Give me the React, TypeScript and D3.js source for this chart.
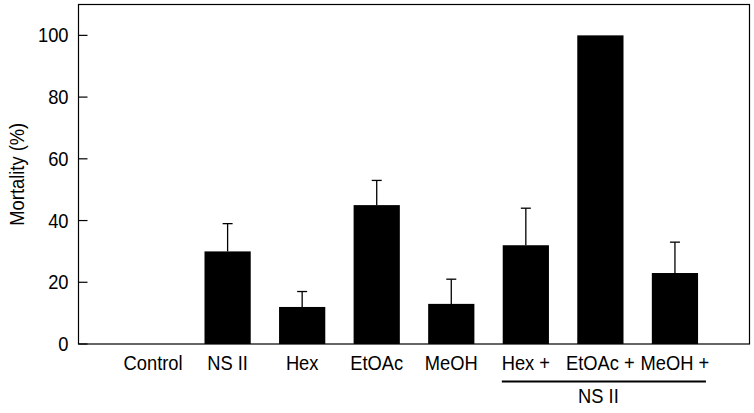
import React from "react";
import * as d3 from "d3";

const categories = ["Control", "NS II", "Hex", "EtOAc", "MeOH", "Hex +", "EtOAc +", "MeOH +"];
const mortality = [0, 30, 12, 45, 13, 32, 100, 23];
const errorTop = [0, 39, 17, 53, 21, 44, 100, 33];
const yTicks = [0, 20, 40, 60, 80, 100];
const groupLabel = "NS II";
const yTitle = "Mortality (%)";

const W = 754;
const H = 413;
const left = 78.5;
const right = 749.5;
const top = 4.5;
const bottom = 344;

const font = "'Liberation Sans', Arial, sans-serif";
const FS = 19.5;
const SX = 0.94;

function Label({ x, y, anchor, children, rotate = 0 }: any) {
  return (
    <text
      transform={`translate(${x},${y}) rotate(${rotate}) scale(${SX},1)`}
      textAnchor={anchor}
      fontFamily={font}
      fontSize={FS}
      fill="#000"
    >
      {children}
    </text>
  );
}

export default function App() {
  const x = d3.scaleLinear().domain([0, 9]).range([left, right]);
  const y = d3.scaleLinear().domain([0, 110]).range([bottom, top]);
  const halfW = 0.31;

  return (
    <div style={{ position: "absolute", left: 0, top: 0 }}>
      <svg width={W} height={H} style={{ display: "block", background: "#fff" }}>
        {categories.map((c, i) => {
          const v = mortality[i];
          const cx = x(i + 1);
          if (v <= 0) return null;
          return (
            <g key={c}>
              <rect
                x={x(i + 1 - halfW)}
                width={x(i + 1 + halfW) - x(i + 1 - halfW)}
                y={y(v)}
                height={y(0) - y(v)}
                fill="#000"
              />
              {errorTop[i] > v && (
                <g stroke="#000" strokeWidth={1.3}>
                  <line x1={cx} x2={cx} y1={y(v)} y2={y(errorTop[i])} />
                  <line x1={cx - 5} x2={cx + 5} y1={y(errorTop[i])} y2={y(errorTop[i])} />
                </g>
              )}
            </g>
          );
        })}
        <rect x={left} y={top} width={right - left} height={bottom - top} fill="none" stroke="#000" strokeWidth={1.2} />
        {yTicks.map((t) => (
          <g key={t}>
            <line x1={left} x2={left + 9} y1={y(t)} y2={y(t)} stroke="#000" strokeWidth={1.2} />
            <Label x={left - 10} y={y(t) + 7} anchor="end">
              {t}
            </Label>
          </g>
        ))}
        <Label x={24} y={(top + bottom) / 2} anchor="middle" rotate={-90}>
          {yTitle}
        </Label>
        {categories.map((c, i) => (
          <Label key={c} x={x(i + 1)} y={370} anchor="middle">
            {c}
          </Label>
        ))}
        <line x1={x(6) - 24} x2={x(8) + 31} y1={381.5} y2={381.5} stroke="#000" strokeWidth={2} />
        <Label x={x(7) - 2} y={403} anchor="middle">
          {groupLabel}
        </Label>
      </svg>
    </div>
  );
}
